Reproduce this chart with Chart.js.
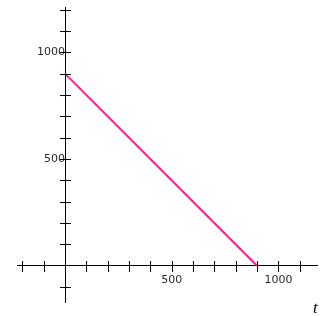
<!DOCTYPE html>
<html>
<head>
<meta charset="utf-8">
<script src="https://cdn.jsdelivr.net/npm/chart.js@4/dist/chart.umd.min.js"></script>
<style>
html,body{margin:0;padding:0;background:#fff;}
canvas{display:block;}
</style>
</head>
<body>
<canvas id="c" width="326" height="316"></canvas>
<script>
// data
const tValues = [0, 900];
const yValues = [900, 0];
const xTicks = [-200, -100, 0, 100, 200, 300, 400, 500, 600, 700, 800, 900, 1000, 1100];
const yTicks = [-100, 0, 100, 200, 300, 400, 500, 600, 700, 800, 900, 1000, 1100, 1200];
const xTickLabels = [500, 1000];
const yTickLabels = [500, 1000];
const xRange = [-225, 1181];
const yRange = [-170, 1212];
const axisTitle = 't';

const crossTicks = {
  id: 'crossTicks',
  afterDraw(chart) {
    const ctx = chart.ctx;
    const xs = chart.scales.x, ys = chart.scales.y;
    const x0 = Math.round(xs.getPixelForValue(0)), y0 = Math.round(ys.getPixelForValue(0));
    ctx.save();
    ctx.strokeStyle = '#000';
    ctx.lineWidth = 1;
    ctx.beginPath();
    for (const v of xTicks) {
      if (v === 0) continue;
      const px = Math.round(xs.getPixelForValue(v)) + 0.5;
      ctx.moveTo(px, y0 - 5);
      ctx.lineTo(px, y0 + 6);
    }
    for (const v of yTicks) {
      if (v === 0) continue;
      const py = Math.round(ys.getPixelForValue(v)) + 0.5;
      ctx.moveTo(x0 - 5, py);
      ctx.lineTo(x0 + 6, py);
    }
    ctx.stroke();
    ctx.fillStyle = '#000';
    ctx.font = 'italic 17px "Liberation Serif", serif';
    ctx.textAlign = 'left';
    ctx.textBaseline = 'alphabetic';
    ctx.fillText(axisTitle, 313, 313);
    ctx.restore();
  }
};

const noPad = s => { s.paddingTop = 0; s.paddingBottom = 0; s.paddingLeft = 0; s.paddingRight = 0; };

new Chart(document.getElementById('c'), {
  type: 'scatter',
  data: {
    datasets: [{
      data: tValues.map((t, i) => ({x: t, y: yValues[i]})),
      showLine: true,
      borderColor: '#ff1a8c',
      borderWidth: 2,
      pointRadius: 0,
      fill: false
    }]
  },
  options: {
    responsive: false,
    animation: false,
    layout: {padding: {left: 17, right: 9, top: 7, bottom: 14}},
    plugins: {legend: {display: false}, tooltip: {enabled: false}},
    scales: {
      x: {
        type: 'linear',
        min: xRange[0], max: xRange[1],
        position: {y: 0},
        afterBuildTicks: s => { s.ticks = xTicks.map(v => ({value: v})); },
        afterFit: noPad,
        grid: {display: true, drawOnChartArea: false, drawTicks: false},
        border: {display: true, color: '#000', width: 1},
        ticks: {
          autoSkip: false, maxRotation: 0, minRotation: 0,
          padding: 8, color: '#2a2a2a',
          font: {family: '"DejaVu Sans"', size: 11},
          callback: v => xTickLabels.includes(v) ? String(v) : ''
        }
      },
      y: {
        type: 'linear',
        min: yRange[0], max: yRange[1],
        position: {x: 0},
        afterBuildTicks: s => { s.ticks = yTicks.map(v => ({value: v})); },
        afterFit: noPad,
        grid: {display: true, drawOnChartArea: false, drawTicks: false},
        border: {display: true, color: '#000', width: 1},
        ticks: {
          autoSkip: false,
          padding: 7, color: '#2a2a2a',
          font: {family: '"DejaVu Sans"', size: 11},
          callback: v => yTickLabels.includes(v) ? String(v) : ''
        }
      }
    }
  },
  plugins: [crossTicks]
});
</script>
</body>
</html>
